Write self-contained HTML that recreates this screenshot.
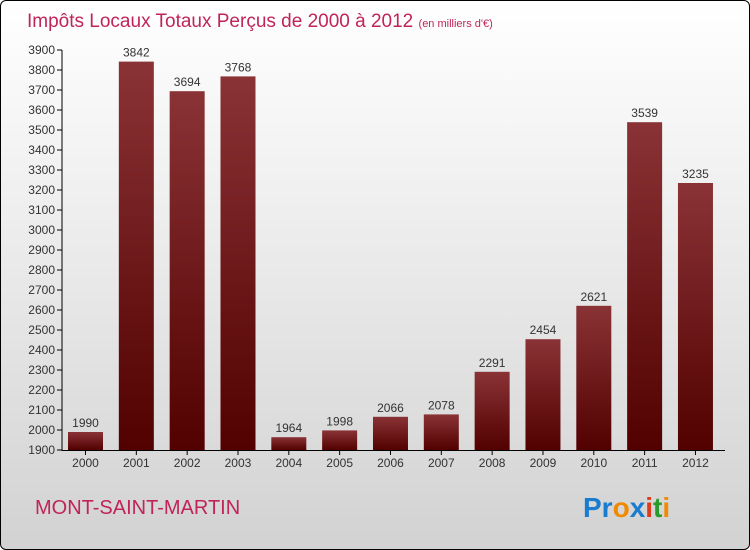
<!DOCTYPE html>
<html><head><meta charset="utf-8"><style>
body{margin:0;}
#c{width:748px;height:548px;border:1px solid #000;border-radius:6px;overflow:hidden;background:linear-gradient(#ffffff,#f2f2f2 30%,#d2d2d2);font-family:"Liberation Sans",sans-serif;position:relative}
</style></head><body>
<div id="c">
<svg width="748" height="548" id="svg">
<defs><linearGradient id="bg" x1="0" y1="0" x2="0" y2="1"><stop offset="0" stop-color="#8a3336"/><stop offset="1" stop-color="#520000"/></linearGradient></defs>
<text x="26" y="26" font-size="19" fill="#c0245a">Impôts Locaux Totaux Perçus de 2000 à 2012 <tspan font-size="11" fill="#c0245a">(en milliers d'€)</tspan></text>
<g id="plot"></g>
<text x="34" y="513" font-size="20" fill="#c0245a">MONT-SAINT-MARTIN</text>
<text x="582" y="516" font-size="28" font-weight="bold"><tspan fill="#1a7ccf">Pr</tspan><tspan fill="#f08a00">o</tspan><tspan fill="#1a7ccf">x</tspan><tspan fill="#e03a1a">i</tspan><tspan fill="#2a9a2a">t</tspan><tspan fill="#f08a00">i</tspan></text>
</svg></div>
<script>
const categories=["2000","2001","2002","2003","2004","2005","2006","2007","2008","2009","2010","2011","2012"];
const values=[1990,3842,3694,3768,1964,1998,2066,2078,2291,2454,2621,3539,3235];
const ticks=[1900,2000,2100,2200,2300,2400,2500,2600,2700,2800,2900,3000,3100,3200,3300,3400,3500,3600,3700,3800,3900];
const NS="http://www.w3.org/2000/svg";
const g=document.getElementById('plot');
const y=v=>449-(v-1900)*0.2;
const x=i=>84.5+i*50.83;
function mk(t,a){const e=document.createElementNS(NS,t);for(const k in a)e.setAttribute(k,a[k]);g.appendChild(e);return e;}
ticks.forEach(t=>{
 const l=mk('line',{x1:56,x2:61,y1:y(t),y2:y(t),stroke:'#000'});
 
 
 const tx=mk('text',{x:54,y:y(t)+4,'font-size':12,'text-anchor':'end',fill:'#333'});tx.textContent=t;
 
 
});
categories.forEach((c,i)=>{
 const v=values[i];
 const b=mk('rect',{x:x(i)-17.5,y:y(v),width:35,height:y(1900)-y(v),fill:'url(#bg)'});
 
 
 const vl=mk('text',{x:x(i),y:y(v)-5,'font-size':12,'text-anchor':'middle',fill:'#333'});vl.textContent=v;
 
 
 const tk=mk('line',{x1:x(i),x2:x(i),y1:449,y2:454,stroke:'#000'});
 
 
 const xl=mk('text',{x:x(i),y:466,'font-size':12,'text-anchor':'middle',fill:'#333'});xl.textContent=c;
 
 
});
const ya=mk('line',{x1:61,x2:61,y1:y(3900),y2:450,stroke:'#000'});


const xa=mk('line',{x1:61,x2:724,y1:449.5,y2:449.5,stroke:'#000'});


</script>
</body></html>
